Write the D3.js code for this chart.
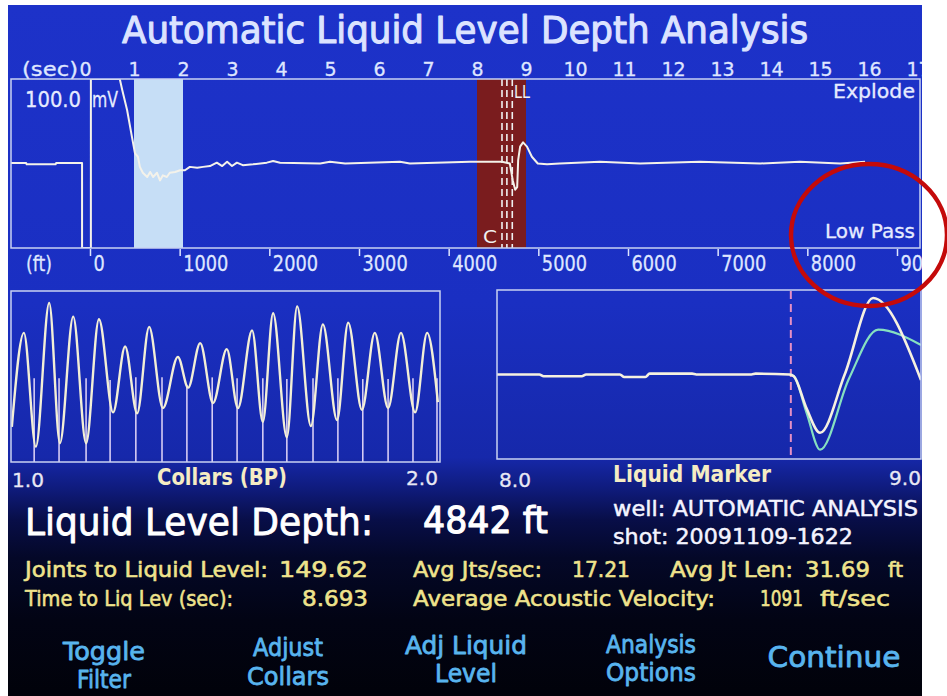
<!DOCTYPE html>
<html><head><meta charset="utf-8">
<script src="https://cdn.jsdelivr.net/npm/d3@7"></script>
<style>html,body{margin:0;padding:0;background:#fff;}svg{display:block;}</style>
</head><body>
<script>
// ---------------- DATA ----------------
const title = "Automatic Liquid Level Depth Analysis";
const secTicks = [0,1,2,3,4,5,6,7,8,9,10,11,12,13,14,15,16,17];
const ftTicks = [0,1000,2000,3000,4000,5000,6000,7000,8000,9000];
// main acoustic trace: time (sec) and amplitude (mV)
const traceT = [-1.51,-1.2,-1.19,-0.6,-0.59,-0.06,-0.06,0.12,0.12,0.71,0.76,0.86,0.96,1.02,1.08,1.12,1.18,1.27,1.33,1.39,1.47,1.53,1.59,1.67,1.73,1.84,1.94,2.04,2.14,2.29,2.41,2.55,2.69,2.80,2.90,3.00,3.10,3.22,3.43,3.71,3.84,3.98,4.80,5.00,5.31,6.43,6.63,7.86,8.51,8.67,8.73,8.78,8.82,8.84,8.88,8.94,9.02,9.12,9.24,9.43,9.69,10.51,11.33,12.55,13.78,14.59,15.41,15.92];
const traceV = [0.5,0.5,-1,-1,0.5,0.5,-100,-100,100,100,87,63,31,12,8,-4,-11,-16,-10,-16,-11,-20,-14,-16,-11,-10,-8,-8,-4,-5,-4,-3,1,-3,2,-3,1,-2,-1,1,3,1,0,2,0,2,0,2,2,0,-20,-31,-28,4,20,25,20,8,0,-1,0,2,0,2,0,2,0,2];
const collarWindow = [1.0, 2.0];
const liquidWindow = [8.0, 9.0];
const markerTimes = [8.51, 8.61, 8.72];
// collar panel (1.0 - 2.0 s)
const collarT = [1.002,1.030,1.058,1.089,1.114,1.145,1.175,1.205,1.238,1.266,1.294,1.322,1.354,1.389,1.413,1.441,1.471,1.503,1.529,1.562,1.587,1.611,1.643,1.667,1.699,1.727,1.760,1.786,1.818,1.848,1.879,1.909,1.942,1.970,1.995];
const collarV = [-0.59,0.51,-0.82,0.86,-0.78,0.70,-0.78,0.67,-0.42,0.35,-0.43,0.58,-0.37,0.23,-0.13,0.39,-0.31,0.32,-0.37,0.54,-0.53,0.74,-0.71,0.82,-0.58,0.61,-0.51,0.63,-0.39,0.51,-0.37,0.51,-0.42,0.51,-0.30];
const collarMarks = [1.054,1.112,1.175,1.231,1.291,1.352,1.410,1.469,1.527,1.587,1.643,1.704,1.762,1.820,1.879,1.937,1.993];
const collarMarkTop = [-0.02,-0.02,-0.02,-0.04,-0.01,-0.01,-0.1,-0.01,-0.02,-0.02,-0.03,-0.02,-0.02,-0.03,-0.03,-0.02,-0.02];
// liquid marker panel (8.0 - 9.0 s)
const lmWhiteT = [8.00,8.10,8.11,8.20,8.21,8.29,8.30,8.35,8.36,8.46,8.47,8.60,8.61,8.69,8.70,8.73,8.762,8.82,8.887,9.0];
const lmWhiteV = [0.00,0.00,-0.02,-0.02,0.00,0.00,-0.03,-0.03,0.01,0.01,0.00,0.00,0.01,0.00,-0.02,-0.40,-0.69,0.00,0.905,-0.065];
const lmTealT = [8.69,8.70,8.73,8.762,8.83,8.899,9.0];
const lmTealV = [0.00,-0.02,-0.45,-0.89,-0.05,0.53,0.35];
const liquidLevelTime = 8.693;
const results = {depth:"4842 ft", joints:"149.62", time:"8.693", jtsPerSec:"17.21", jtLen:"31.69", velocity:"1091"};
const buttons = [["Toggle","Filter"],["Adjust","Collars"],["Adj Liquid","Level"],["Analysis","Options"],["Continue"]];

// ---------------- DRAW ----------------
const W = 947, H = 696;
const FONT = "'DejaVu Sans', 'Liberation Sans', sans-serif";
const svg = d3.select("body").append("svg").attr("width", W).attr("height", H);
const defs = svg.append("defs");
const grad = defs.append("linearGradient").attr("id","bg").attr("x1",0).attr("y1",0).attr("x2",0).attr("y2",1);
[[0,"#1d32c9"],[0.43,"#1a2fc2"],[0.655,"#1628aa"],[0.70,"#0f1b7c"],[0.745,"#080e48"],[0.80,"#040828"],[0.89,"#020414"],[1,"#01020a"]]
  .forEach(([o,c]) => grad.append("stop").attr("offset",o).attr("stop-color",c));
defs.append("clipPath").attr("id","screen").append("rect").attr("x",8).attr("y",5).attr("width",914).attr("height",691);
defs.append("clipPath").attr("id","topclip").append("rect").attr("x",11).attr("y",79).attr("width",909).attr("height",169);
defs.append("clipPath").attr("id","colclip").append("rect").attr("x",11).attr("y",291).attr("width",429).attr("height",171);
defs.append("clipPath").attr("id","lmclip").append("rect").attr("x",497).attr("y",290).attr("width",424).attr("height",170);

const scr = svg.append("g").attr("clip-path","url(#screen)");
scr.append("rect").attr("x",8).attr("y",5).attr("width",914).attr("height",691).attr("fill","url(#bg)");

function txt(g, x, y, s, o) {
  o = o || {};
  const fill = o.fill || "#e0e6ff";
  const t = g.append("text").attr("x",x).attr("y",y).text(s)
    .attr("font-family", o.family || FONT).attr("font-size", o.size || 20)
    .attr("fill", fill).attr("text-anchor", o.anchor || "start")
    .attr("font-weight", o.weight || "normal");
  if (o.len) t.attr("textLength", o.len).attr("lengthAdjust","spacingAndGlyphs");
  if (o.thick) t.attr("stroke", fill).attr("stroke-width", o.thick).attr("stroke-linejoin","round");
  return t;
}

// title
txt(scr, 465, 43, title, {size:37, anchor:"middle", len:686, fill:"#dce3ff", thick:1.1});

// ---- top panel ----
const tx = d3.scaleLinear().domain([0,16]).range([85,869]);
const ty = d3.scaleLinear().domain([-100,100]).range([248,79]);
const fx = d3.scaleLinear().domain([0,9000]).range([90,897]);
const topG = scr.append("g");
const topClip = topG.append("g").attr("clip-path","url(#topclip)");
topClip.append("rect").attr("x",tx(collarWindow[0])).attr("y",79).attr("width",tx(collarWindow[1])-tx(collarWindow[0])).attr("height",169).attr("fill","#c6def6");
topClip.append("rect").attr("x",tx(liquidWindow[0])).attr("y",79).attr("width",tx(liquidWindow[1])-tx(liquidWindow[0])).attr("height",169).attr("fill","#7a1c1e");
topClip.selectAll("line.mk").data(markerTimes).join("line").attr("class","mk")
  .attr("x1",d=>tx(d)).attr("x2",d=>tx(d)).attr("y1",79).attr("y2",248)
  .attr("stroke","#f0f0f0").attr("stroke-width",1.6).attr("stroke-dasharray","7,4");
const traceData = traceT.map((t,i)=>[t,traceV[i]]);
topClip.append("path").datum(traceData)
  .attr("d", d3.line().x(d=>tx(d[0])).y(d=>ty(d[1])).curve(d3.curveLinear))
  .attr("fill","none").attr("stroke","#f4f2ea").attr("stroke-width",2).attr("stroke-linejoin","round");
topG.append("rect").attr("x",11).attr("y",79).attr("width",909).attr("height",169)
  .attr("fill","none").attr("stroke","#c9d2f2").attr("stroke-width",1.5);

// top axis (sec)
const axTop = topG.append("g").attr("transform","translate(0,76)")
  .call(d3.axisTop(tx).tickValues(secTicks).tickSize(0).tickPadding(0).tickFormat(d3.format("d")));
axTop.select(".domain").remove();
axTop.selectAll("text").attr("font-family",FONT).attr("font-size",19).attr("fill","#dfe6ff").attr("dy",0).attr("y",0)
  .attr("stroke","#dfe6ff").attr("stroke-width",0.3);
txt(topG, 22, 76, "(sec)", {size:19, len:56, fill:"#dfe6ff", thick:0.3});

// bottom axis (ft)
const axBot = topG.append("g").attr("transform","translate(0,249)")
  .call(d3.axisBottom(fx).tickValues(ftTicks).tickSize(7).tickFormat(d3.format("d")));
axBot.select(".domain").remove();
axBot.selectAll("line").attr("stroke","#dfe6ff").attr("stroke-width",1.5);
axBot.selectAll("text").attr("font-family",FONT).attr("font-size",21).attr("fill","#dfe6ff")
  .attr("text-anchor","start").attr("x",3).attr("y",22).attr("dy",0)
  .attr("stroke","#dfe6ff").attr("stroke-width",0.3)
  .attr("textLength", d => String(d).length*11.3).attr("lengthAdjust","spacingAndGlyphs");
txt(topG, 26, 271, "(ft)", {size:21, len:26, fill:"#dfe6ff", thick:0.3});

txt(topG, 25, 107, "100.0", {size:21, len:56, fill:"#e6ebff", thick:0.3});
txt(topG, 92, 107, "mV", {size:21, len:26, fill:"#e6ebff", thick:0.3});
txt(topG, 915, 98, "Explode", {size:19, anchor:"end", len:82, fill:"#e6ebff", thick:0.3});
txt(topG, 915, 238, "Low Pass", {size:20, anchor:"end", len:90, fill:"#e6ebff", thick:0.3});
txt(topG, tx(liquidLevelTime)+3, 98, "LL", {size:17, len:16, fill:"#f0f0f0"});
txt(topG, tx(markerTimes[0])-19, 243, "C", {size:18, len:14, fill:"#f0f0f0"});

// ---- collar panel ----
const cx = d3.scaleLinear().domain(collarWindow).range([11,440]);
const cy = d3.scaleLinear().domain([-1,1]).range([462,291]);
const colG = scr.append("g");
const colClip = colG.append("g").attr("clip-path","url(#colclip)");
colClip.selectAll("line.cm").data(collarMarks).join("line").attr("class","cm")
  .attr("x1",d=>cx(d)).attr("x2",d=>cx(d)).attr("y1",(d,i)=>cy(collarMarkTop[i])).attr("y2",462)
  .attr("stroke","#d6ccf4").attr("stroke-width",1.6);
colClip.append("path").datum(collarT.map((t,i)=>[t,collarV[i]]))
  .attr("d", d3.line().x(d=>cx(d[0])).y(d=>cy(d[1])).curve(d3.curveMonotoneX))
  .attr("fill","none").attr("stroke","#f3efd6").attr("stroke-width",2.4);
colG.append("rect").attr("x",11).attr("y",291).attr("width",429).attr("height",171)
  .attr("fill","none").attr("stroke","#c9d2f2").attr("stroke-width",1.5);
txt(colG, 12, 487, "1.0", {size:20, len:32, fill:"#e8e8f4", thick:0.3});
txt(colG, 438, 485, "2.0", {size:20, anchor:"end", len:32, fill:"#e8e8f4", thick:0.3});
txt(colG, 222, 485, "Collars (BP)", {size:23, anchor:"middle", weight:"bold", len:130, fill:"#f5ecc4"});

// ---- liquid marker panel ----
const lx = d3.scaleLinear().domain(liquidWindow).range([497,921]);
const ly = d3.scaleLinear().domain([-1,1]).range([459,290]);
const lmG = scr.append("g");
const lmClip = lmG.append("g").attr("clip-path","url(#lmclip)");
lmClip.append("line").attr("x1",lx(liquidLevelTime)).attr("x2",lx(liquidLevelTime)).attr("y1",291).attr("y2",459)
  .attr("stroke","#e58fc4").attr("stroke-width",2).attr("stroke-dasharray","8,5");
lmClip.append("path").datum(lmTealT.map((t,i)=>[t,lmTealV[i]]))
  .attr("d", d3.line().x(d=>lx(d[0])).y(d=>ly(d[1])).curve(d3.curveMonotoneX))
  .attr("fill","none").attr("stroke","#86e0c0").attr("stroke-width",2.2);
lmClip.append("path").datum(lmWhiteT.map((t,i)=>[t,lmWhiteV[i]]))
  .attr("d", d3.line().x(d=>lx(d[0])).y(d=>ly(d[1])).curve(d3.curveMonotoneX))
  .attr("fill","none").attr("stroke","#f6f1e0").attr("stroke-width",2.6);
lmG.append("rect").attr("x",497).attr("y",290).attr("width",424).attr("height",169)
  .attr("fill","none").attr("stroke","#c9d2f2").attr("stroke-width",1.5);
txt(lmG, 499, 487, "8.0", {size:20, len:32, fill:"#e8e8f4", thick:0.3});
txt(lmG, 921, 485, "9.0", {size:20, anchor:"end", len:32, fill:"#e8e8f4", thick:0.3});
txt(lmG, 692, 482, "Liquid Marker", {size:23, anchor:"middle", weight:"bold", len:158, fill:"#f5ecc4"});

// ---- results text ----
const resG = scr.append("g");
txt(resG, 25, 535, "Liquid Level Depth:", {size:38, len:348, fill:"#ffffff", thick:0.9});
txt(resG, 423, 533, results.depth, {size:38, len:125, fill:"#ffffff", thick:1.1});
txt(resG, 613, 516, "well: AUTOMATIC ANALYSIS", {size:22, len:305, fill:"#f4f4ff", thick:0.5});
txt(resG, 613, 544, "shot: 20091109-1622", {size:22, len:240, fill:"#f4f4ff", thick:0.5});
const Y1 = 577, Y2 = 606, YC = "#efe38c", TK = 0.6;
txt(resG, 25, Y1, "Joints to Liquid Level:", {size:22, len:243, fill:YC, thick:TK});
txt(resG, 279, Y1, results.joints, {size:22, len:89, fill:YC, thick:TK});
txt(resG, 25, Y2, "Time to Liq Lev (sec):", {size:22, len:208, fill:YC, thick:TK});
txt(resG, 302, Y2, results.time, {size:22, len:66, fill:YC, thick:TK});
txt(resG, 413, Y1, "Avg Jts/sec:", {size:22, len:129, fill:YC, thick:TK});
txt(resG, 572, Y1, results.jtsPerSec, {size:22, len:58, fill:YC, thick:TK});
txt(resG, 670, Y1, "Avg Jt Len:", {size:22, len:123, fill:YC, thick:TK});
txt(resG, 805, Y1, results.jtLen, {size:22, len:65, fill:YC, thick:TK});
txt(resG, 888, Y1, "ft", {size:22, len:15, fill:YC, thick:TK});
txt(resG, 413, Y2, "Average Acoustic Velocity:", {size:22, len:302, fill:YC, thick:TK});
txt(resG, 760, Y2, results.velocity, {size:22, len:43, fill:YC, thick:TK});
txt(resG, 820, Y2, "ft/sec", {size:22, len:70, fill:YC, thick:TK});

// ---- buttons ----
const BC = "#58b4ee";
const btnPos = [[104,[660,688]],[288,[656,685]],[466,[654,682]],[651,[653,681]],[834,[667]]];
const btnLen = [[82,54],[70,82],[122,62],[90,90],[133]];
buttons.forEach((lines,i) => {
  lines.forEach((s,j) => {
    txt(scr, btnPos[i][0], btnPos[i][1][j], s, {size: lines.length===1?29:24, anchor:"middle", len:btnLen[i][j], fill:BC, thick:0.8});
  });
});

// red annotation ellipse (drawn on top of everything)
svg.append("ellipse").attr("cx",869).attr("cy",235).attr("rx",78).attr("ry",71)
  .attr("fill","none").attr("stroke","#c40a0a").attr("stroke-width",4.5);
</script>
</body></html>
